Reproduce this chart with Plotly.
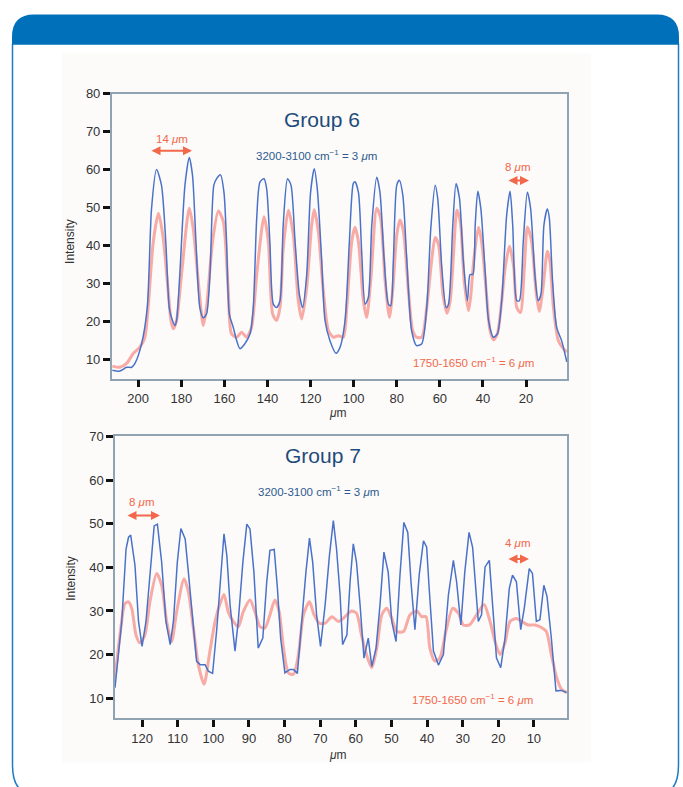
import plotly.graph_objects as go

# ---------------- Group 6 data ----------------
g6_blue_x = [212, 208.5, 205.4, 203, 201.5, 198.5, 195.8, 193.8, 191.5, 189.2, 187.2, 185.6, 184.5, 183, 182.2, 180.7,
             178.3, 176.3, 174.8, 173.2, 171.4, 169.8, 168.3, 166.7, 164.9, 163.6, 161.8, 160.2, 159, 157.7, 155.9,
             154.3, 152.8, 150.5, 148.1, 146.6, 145, 143.5, 141.6, 140.4, 138.9, 137.3, 135.8, 134.2, 132.7, 130.7,
             129.1, 127.2, 125.2, 123.7, 121.8, 120, 118.3, 116.9, 114.9, 113.3, 111, 108.2, 106.3, 104, 102, 100.2,
             99.4, 97.8, 96.3, 94.7, 93.2, 91.6, 89.3, 87.8, 85.9, 83.9, 82.8, 81.6, 80, 78.8, 77.2, 75.4, 73.1, 70.8,
             68.4, 66.1, 64.2, 62.2, 61, 59.1, 57.1, 56, 54, 52.5, 50.9, 49.1, 47.2, 46, 44.7, 43.6, 42.4, 41, 39,
             37.4, 35.1, 33.3, 31.3, 29, 27.4, 26.2, 24.3, 23.1, 21.3, 19.4, 17.9, 15.9, 14.4, 13.1, 11.7, 10.1, 9.2,
             7.7, 5.8, 3.5, 1.1]
g6_blue_y = [7.2, 7, 8, 8, 9, 14, 23.7, 49.8, 60, 55.9, 41, 23.7, 21, 19, 20.3, 32.4,
             55.9, 63.2, 58.5, 41, 23.7, 21, 22, 32.4, 55.9, 57.6, 58.6, 54, 41, 22, 18.5,
             15, 12.9, 14.2, 16.8, 23.7, 47.2, 56.7, 57.6, 55, 41, 24.6, 23.7, 25.5, 45.4, 57.6,
             55.9, 41, 27.2, 23.7, 32.4, 54, 60.2, 55, 36.7, 20.3, 15, 11.7, 13.3, 20.3, 41, 56.3,
             56.8, 54, 38.5, 24.6, 26.3, 45.4, 58, 54, 36.7, 24.6, 24.2, 35.9, 55.9, 57.2, 53.3, 36.7, 17.6, 13.7,
             14.2, 23.7, 44.6, 55.9, 52.4, 34.2, 23.7, 24.6, 45.4, 56.3, 52.4, 35.9, 25.5, 32.4, 32.4, 45.4, 54.3, 49.8, 33.3,
             20.3, 15.9, 16.8, 25.5, 48, 54.3, 45.4, 25.5, 25.5, 41, 54, 49.8, 32.4, 25.5, 27.2, 45.4, 49.6, 47.2,
             30.7, 18.5, 15, 9.4]

g6_red_x = [212, 208.5, 205.4, 202.3, 199.2, 196.9, 195.4, 193, 190.6, 188.4, 186.1, 184.8, 183.7, 182.2, 179.9,
            176.3, 174.5, 171.7, 169.8, 168.3, 165.5, 162.8, 160.5, 158.2, 156.7, 154.3, 152, 149.7, 147.4, 145,
            141.6, 139.6, 137.6, 135.8, 134.2, 132.7, 130.3, 128, 125.7, 124.1, 121.8, 119.5, 118.3, 116.4, 114.1,
            111.7, 109.4, 107.1, 104.8, 103.2, 100.9, 99.4, 97.8, 95.5, 94, 92.1, 89.3, 87.5, 85.4, 83.4, 81.9, 80,
            78.5, 76.9, 74.6, 72.6, 70.8, 68.4, 66.1, 63.7, 62.2, 60.6, 58.6, 56.7, 55.2, 53.6, 52.1, 50.5, 48.7,
            46.7, 45.6, 44.3, 42.1, 40.6, 38.5, 36.7, 35.1, 33.3, 31.3, 29.7, 27.7, 25.7, 24.3, 22.6, 20.8, 19.4,
            17.4, 15.4, 13.9, 12.3, 10.1, 8.9, 7.3, 5, 2.7, 1.1]
g6_red_y = [8.3, 8, 9, 11.6, 13.3, 15.9, 23.7, 41, 48.5, 42, 28.1, 20.3, 18.1, 20.3, 32.4,
            49.8, 44.6, 28.1, 19, 23.7, 41, 49.1, 46.3, 28.1, 16.8, 15.9, 17.2, 15.9, 18.5, 32.4,
            47.6, 41, 22, 20.3, 23.7, 39.3, 49.3, 42.8, 25.5, 20.7, 29, 45.4, 49.4, 43.7, 28.1,
            17.6, 15.9, 16.3, 15.9, 23.7, 41, 44.8, 41, 25.5, 21.1, 30.7, 49.8, 47.2, 30.7, 21.1, 28.1, 42.8,
            46.7, 43.7, 28.1, 17.6, 15.9, 15.9, 23.7, 36.7, 42.1, 40.2, 27.2, 22.2, 25.5, 38.5, 49.3, 46.3, 30.7,
            22.9, 27.2, 35.9, 44.8, 41, 28.1, 17.6, 15.2, 16.8, 25.5, 34.2, 39.8, 34.2, 23.7, 22.4, 34.2, 44.9,
            41, 28.1, 22.7, 28.1, 38.5, 35.9, 23.7, 15, 12.9, 12]

# ---------------- Group 7 data ----------------
g7_blue_x = [127.6, 125.7, 124.5, 123.8, 123.2, 122, 121, 120, 118.9, 117.8, 116.6, 115.7, 114.5, 113.3, 112.1,
             111.2, 110.1, 109.1, 107.9, 107, 106.1, 104.7, 103.7, 102.3, 101.4, 100.2, 99, 97.6, 97, 96.2, 95.3,
             93.9, 93, 91.7, 90.6, 89.7, 88.6, 87.4, 86.1, 85, 84.1, 82.9, 82, 81.1, 79.9, 78.5, 77.5, 76.4, 75.2,
             74, 73, 72.1, 71, 69.9, 68.6, 67.4, 66.3, 65.4, 64.4, 63.7, 62.5, 61.6, 60.7, 59.8, 58.8, 57.7, 56.5,
             55.5, 54.3, 53.2, 52.1, 50.9, 49.9, 48.7, 47.6, 46.5, 45.4, 44.5, 43.4, 42.2, 41, 40.1, 39.4, 38.2,
             36.8, 35.4, 34, 32.6, 31.7, 30.5, 29.4, 28.2, 27.2, 26.3, 25.6, 24.7, 23.7, 22.5, 21.6, 20.5, 19.3,
             18.1, 16.9, 16, 14.9, 13.7, 12.7, 11.3, 10.4, 9.3, 8.3, 7.2, 6.3, 5.1, 3.8, 2.2, 0.8]
g7_blue_y = [12.4, 27.6, 44.2, 46.9, 47.4, 40.5, 27.6, 21.9, 27.6, 38.9, 49.5, 49.9, 41.2, 27.6, 22.3,
             27.6, 41.2, 48.9, 46.5, 38.9, 30.6, 18.5, 17.7, 17.7, 16.2, 15.7, 26.1, 41.2, 47.7, 42.7, 31.4,
             20.8, 27.6, 41.2, 49.9, 48.8, 38.9, 21.5, 23.8, 36.7, 43.9, 44.1, 35.2, 23.8, 15.8, 16.6, 16.6, 15.7, 27.6,
             38.9, 46.7, 41.2, 29.1, 21.9, 31.4, 42.7, 50.7, 44.2, 33.6, 22.3, 24.5, 36.7, 45.4, 41.2, 31.4, 19.2, 23.8,
             17.3, 21.5, 31.4, 43.5, 38.9, 27.6, 23, 38.2, 50.3, 48, 36.7, 25.7, 38.2, 46.1, 44.6, 35.2, 20.8,
             17.6, 20, 33.6, 41.6, 36.7, 26.8, 38.9, 48, 44.6, 35.2, 27.6, 29.1, 40.1, 41.6, 31.4, 19.2, 17,
             23.8, 35.2, 38.2, 36.7, 25.7, 30.6, 39.7, 38.6, 27.6, 28, 35.9, 33.3, 23.8, 11.7, 11.8, 11.3]

g7_red_x = [127.6, 126.2, 124.8, 123.8, 122.9, 121.7, 120.6, 119.2, 117.8, 115.9, 114.5, 113.1, 111.7, 110.3, 108.2,
            107, 105.6, 104.2, 102.6, 101.1, 99.5, 98.1, 97, 95.8, 94.4, 93, 91.6, 89.7, 88.3, 86.9, 85.5, 84.1,
            82.7, 81.5, 80.3, 78.9, 77.5, 76.1, 74.7, 73, 71.7, 70.2, 68.6, 66.7, 64.9, 63, 61.2, 59.8, 58.4, 57,
            55.5, 54.1, 52.7, 51.3, 49.9, 48.5, 46.6, 44.8, 42.9, 41.5, 40.3, 39.2, 37.8, 36.4, 34.7, 32.8, 31.2,
            29.8, 28.1, 26.1, 24, 22.3, 20.9, 19.5, 18.1, 16.7, 14.9, 13.4, 11.6, 9.7, 7.9, 6.5, 5.1, 3.6, 2.2, 0.8]
g7_red_y = [14.7, 24.5, 31.7, 32.1, 30.6, 24.5, 22.7, 24.5, 32.1, 38.6, 35.9, 27.6, 23, 29.8, 37.4,
            34.4, 26.1, 17.7, 13.2, 20, 27.6, 31.7, 33.8, 29.8, 27.6, 26.4, 29.8, 32.5, 29.8, 26.4, 26.1, 29.1,
            32.5, 29.8, 21.5, 15.8, 15.5, 20, 29.1, 32.1, 29.1, 27.2, 27.2, 28.7, 27.6, 28.7, 30, 29.5, 24.5, 20,
            17, 21.5, 29.1, 30.6, 28.3, 25.3, 25.3, 29.1, 30, 28.7, 28.7, 21.5, 18.5, 19.2, 25.3, 30.6, 29.5,
            26.8, 26.8, 29.1, 31.5, 27.6, 23, 20, 22.7, 27.6, 28.3, 27.6, 26.8, 26.8, 26.2, 25.3, 20, 14.7, 12, 11.3]

g6_yticks = [10, 20, 30, 40, 50, 60, 70, 80]
g6_xticks = [200, 180, 160, 140, 120, 100, 80, 60, 40, 20]
g7_yticks = [10, 20, 30, 40, 50, 60, 70]
g7_xticks = [120, 110, 100, 90, 80, 70, 60, 50, 40, 30, 20, 10]

W, H = 683, 787
BLUE = "#4a72c9"
RED = "rgba(246,120,112,0.62)"
TXT_BLUE = "#2d5a8e"
TXT_RED = "#f2684a"
FONT = "Liberation Sans, Arial, sans-serif"

def px(x):
    return x / W

def py(y):
    return 1 - y / H

fig = go.Figure()
fig.add_trace(go.Scatter(x=g6_red_x, y=g6_red_y, mode="lines", xaxis="x", yaxis="y",
                         line=dict(color=RED, width=3, shape="spline", smoothing=0.7), showlegend=False))
fig.add_trace(go.Scatter(x=g6_blue_x, y=g6_blue_y, mode="lines", xaxis="x", yaxis="y",
                         line=dict(color=BLUE, width=1.5, shape="spline", smoothing=0.7), showlegend=False))
fig.add_trace(go.Scatter(x=g7_red_x, y=g7_red_y, mode="lines", xaxis="x2", yaxis="y2",
                         line=dict(color=RED, width=3, shape="spline", smoothing=0.7), showlegend=False))
fig.add_trace(go.Scatter(x=g7_blue_x, y=g7_blue_y, mode="lines", xaxis="x2", yaxis="y2",
                         line=dict(color=BLUE, width=1.5), showlegend=False))

axis_common = dict(showgrid=False, zeroline=False, showline=True, linecolor="#8fa3b3", linewidth=1.5,
                   mirror=True, ticks="outside", ticklen=7, tickwidth=3, tickcolor="#111111",
                   tickfont=dict(family=FONT, size=13, color="#333333"))

fig.update_layout(
    width=W, height=H, margin=dict(l=0, r=0, t=0, b=0),
    paper_bgcolor="white", plot_bgcolor="white",
    xaxis=dict(domain=[px(111.7), px(567)], range=[212.3, 1], anchor="y",
               tickvals=g6_xticks, **axis_common),
    yaxis=dict(domain=[py(375), py(87.3)], range=[5, 80], anchor="x",
               tickvals=g6_yticks, **axis_common),
    xaxis2=dict(domain=[px(115), px(567)], range=[127.6, 0.7], anchor="y2",
                tickvals=g7_xticks, **axis_common),
    yaxis2=dict(domain=[py(717.7), py(433.3)], range=[5.4, 70], anchor="x2",
                tickvals=g7_yticks, **axis_common),
)

# frame shapes
shapes = [
    dict(type="rect", xref="paper", yref="paper", x0=px(62), x1=px(591), y0=py(762), y1=py(47),
         fillcolor="#fcfbfa", line=dict(width=0), layer="below"),
    dict(type="path", xref="paper", yref="paper",
         path=f"M {px(12.5)},{py(37)} L {px(12.5)},{py(765)} Q {px(12.5)},{py(795)} {px(36)},{py(795)} "
              f"L {px(656)},{py(795)} Q {px(678.5)},{py(795)} {px(678.5)},{py(765)} L {px(678.5)},{py(37)}",
         line=dict(color="#1f7bc4", width=1.5), layer="below"),
    dict(type="path", xref="paper", yref="paper",
         path=f"M {px(12)},{py(38)} L {px(12)},{py(30)} Q {px(12)},{py(7.5)} {px(34)},{py(7.5)} "
              f"L {px(657)},{py(7.5)} Q {px(679)},{py(7.5)} {px(679)},{py(30)} L {px(679)},{py(38)} Z",
         fillcolor="#0070bb", line=dict(width=0), layer="below"),
]
fig.update_layout(shapes=shapes)

ann = []
def text(x, y, s, size, color, **kw):
    ann.append(dict(xref="paper", yref="paper", x=px(x), y=py(y), text=s, showarrow=False,
                    font=dict(family=FONT, size=size, color=color), xanchor="center", yanchor="middle", **kw))

def darrow(x0, x1, y):
    ann.append(dict(xref="paper", yref="paper", x=px(x1), y=py(y), ax=x0 - x1, ay=0, axref="pixel", ayref="pixel",
                    text="", showarrow=True, arrowhead=2, arrowside="end+start", arrowsize=0.9,
                    arrowwidth=2, arrowcolor=TXT_RED))

mu = "<i>μ</i>m"
# Group 6
text(322, 114, "Group 6", 21, "#1f4b7a")
text(316, 149, f"3200-3100 cm<sup>−1</sup> = 3 {mu}", 11.5, TXT_BLUE)
text(172, 133, f"14 {mu}", 11.5, TXT_RED)
darrow(150, 192, 145)
text(518, 161, f"8 {mu}", 11.5, TXT_RED)
darrow(507, 529, 175)
text(473, 358, f"1750-1650 cm<sup>−1</sup> = 6 {mu}", 11.5, TXT_RED)
text(70, 237, "Intensity", 12, "#333333", textangle=-90)
text(338, 410, mu, 12, "#333333")
# Group 7
text(323, 453, "Group 7", 21, "#1f4b7a")
text(318, 488, f"3200-3100 cm<sup>−1</sup> = 3 {mu}", 11.5, TXT_BLUE)
text(142, 499, f"8 {mu}", 11.5, TXT_RED)
darrow(126, 160, 513)
text(518, 541, f"4 {mu}", 11.5, TXT_RED)
darrow(507, 529, 557)
text(472, 698, f"1750-1650 cm<sup>−1</sup> = 6 {mu}", 11.5, TXT_RED)
text(71, 577, "Intensity", 12, "#333333", textangle=-90)
text(338, 755, mu, 12, "#333333")

fig.update_layout(annotations=ann)
fig.write_html("out.html", config={"displayModeBar": False},
               post_script="document.body.style.margin='0';document.body.style.padding='0';"
                           "document.documentElement.style.overflow='hidden';")
